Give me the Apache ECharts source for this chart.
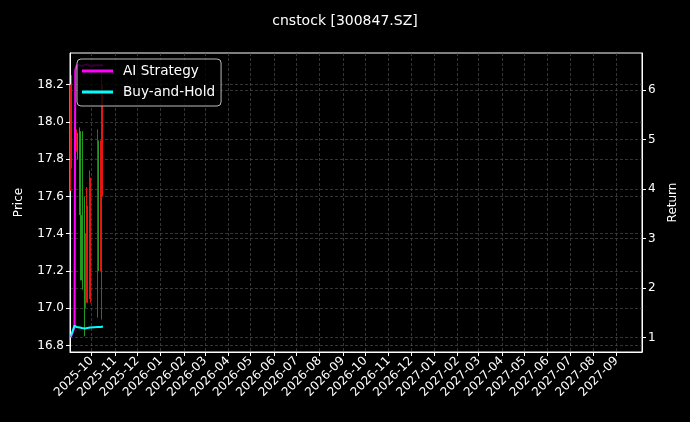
<!DOCTYPE html>
<html>
<head>
<meta charset="utf-8">
<script src="https://cdn.jsdelivr.net/npm/echarts@6/dist/echarts.min.js"></script>
<style>
html, body { margin: 0; padding: 0; background: #000; }
#chart { width: 690px; height: 422px; }
</style>
</head>
<body>
<div id="chart"></div>
<script>
// trading days shown on the chart
var dates = ['2025-09-03', '2025-09-04', '2025-09-05', '2025-09-08', '2025-09-09', '2025-09-10',
    '2025-09-11', '2025-09-12', '2025-09-15', '2025-09-16', '2025-09-17', '2025-09-18',
    '2025-09-19', '2025-09-22', '2025-09-23', '2025-09-24', '2025-09-25', '2025-09-26',
    '2025-09-29', '2025-09-30', '2025-10-09', '2025-10-10', '2025-10-13', '2025-10-14',
    '2025-10-15', '2025-10-16'];
var openPx  = [17.70, 17.85, 17.95, 17.95, 17.90, 17.92, 17.88, 17.90, 17.95, 17.90, 17.55, 17.45, 17.35,
    17.40, 17.05, 17.10, 17.15, 17.10, 17.10, 17.10, 17.00, 17.85, 17.25, 17.00, 17.45, 17.70];
var closePx = [18.15, 18.20, 18.10, 17.90, 17.95, 17.88, 17.92, 17.85, 17.60, 17.25, 17.20, 17.20, 17.15,
    16.95, 17.35, 17.60, 17.55, 17.50, 17.70, 17.65, 17.90, 17.30, 17.85, 17.75, 18.20, 18.10];
var lowPx   = [17.63, 17.75, 17.85, 17.85, 17.85, 17.82, 17.84, 17.80, 17.50, 17.20, 17.15, 17.15, 17.10,
    16.85, 17.00, 17.03, 17.10, 17.03, 17.05, 17.03, 16.95, 17.20, 17.20, 16.94, 17.39, 17.60];
var highPx  = [18.20, 18.25, 18.15, 18.00, 17.98, 17.95, 17.96, 17.94, 17.97, 17.95, 17.60, 17.50, 17.95,
    17.60, 17.40, 17.65, 17.60, 17.55, 17.74, 17.70, 17.96, 17.90, 17.90, 17.80, 18.28, 18.20];
var aiReturn = [1.00, 1.00, 1.00, 1.20, 6.40, 6.45, 6.50, 6.47, 6.50, 6.52, 6.50, 6.49, 6.50,
    6.51, 6.50, 6.50, 6.52, 6.50, 6.49, 6.50, 6.50, 6.51, 6.50, 6.50, 6.52, 6.50];
var bhReturn = [1.02, 1.02, 1.03, 1.24, 1.24, 1.22, 1.21, 1.21, 1.20, 1.19, 1.19, 1.19, 1.19,
    1.18, 1.19, 1.19, 1.19, 1.19, 1.20, 1.20, 1.21, 1.21, 1.21, 1.21, 1.22, 1.22];

var monthTicks = ['2025-10', '2025-11', '2025-12', '2026-01', '2026-02', '2026-03', '2026-04',
    '2026-05', '2026-06', '2026-07', '2026-08', '2026-09', '2026-10', '2026-11', '2026-12',
    '2027-01', '2027-02', '2027-03', '2027-04', '2027-05', '2027-06', '2027-07', '2027-08', '2027-09'];
var priceTicks = [16.8, 17.0, 17.2, 17.4, 17.6, 17.8, 18.0, 18.2];
var returnTicks = [1, 2, 3, 4, 5, 6];

function toTime(s) {
    var p = s.split('-');
    return new Date(+p[0], +p[1] - 1, p[2] ? +p[2] : 1).getTime();
}
function monthLabel(v) {
    var d = new Date(v);
    var m = d.getMonth() + 1;
    return d.getFullYear() + '-' + (m < 10 ? '0' + m : m);
}

var candles = dates.map(function (d, i) {
    return [toTime(d), openPx[i], closePx[i], lowPx[i], highPx[i]];
});
var aiData = dates.map(function (d, i) { return [toTime(d), aiReturn[i]]; });
var bhData = dates.map(function (d, i) { return [toTime(d), bhReturn[i]]; });
var monthValues = monthTicks.map(toTime);

var font = 'DejaVu Sans';
var gridLine = { show: true, lineStyle: { color: '#4a4a4a', width: 0.7, type: [3, 2] } };

var myChart = echarts.init(document.getElementById('chart'));
var option = {
    backgroundColor: '#000',
    animation: false,
    textStyle: { fontFamily: font },
    title: {
        text: 'cnstock [300847.SZ]',
        left: 'center',
        top: 9,
        textStyle: { color: '#fff', fontSize: 14, fontWeight: 'normal', fontFamily: font }
    },
    legend: {
        left: 77,
        top: 59,
        orient: 'vertical',
        itemWidth: 31,
        itemHeight: 3,
        itemGap: 7,
        icon: 'rect',
        padding: [5, 6, 7, 5],
        backgroundColor: 'rgba(0,0,0,0.8)',
        borderColor: '#bbb',
        borderWidth: 1,
        borderRadius: 4,
        textStyle: { color: '#fff', fontSize: 13.6, fontFamily: font, padding: [0, 0, 0, 5] },
        data: ['AI Strategy', 'Buy-and-Hold']
    },
    grid: {
        left: 70, right: 48, top: 53, bottom: 70,
        show: true, borderColor: '#fff', borderWidth: 1
    },
    xAxis: {
        type: 'value',
        min: toTime('2025-09-02'),
        max: toTime('2027-10-05'),
        axisLine: { show: true, lineStyle: { color: '#fff' } },
        axisTick: { show: true, length: 4, lineStyle: { color: '#fff' }, customValues: monthValues },
        axisLabel: {
            color: '#fff', fontSize: 12, rotate: 45, margin: 7, fontFamily: font,
            customValues: monthValues,
            formatter: monthLabel
        },
        splitLine: gridLine
    },
    yAxis: [
        {
            type: 'value',
            name: 'Price',
            nameLocation: 'middle',
            nameGap: 45,
            nameTextStyle: { color: '#fff', fontSize: 12, fontFamily: font },
            min: 16.766,
            max: 18.369,
            axisLine: { show: true, lineStyle: { color: '#fff' } },
            axisTick: { show: true, length: 4, lineStyle: { color: '#fff' }, customValues: priceTicks },
            axisLabel: {
                color: '#fff', fontSize: 12, margin: 6, fontFamily: font,
                customValues: priceTicks,
                formatter: function (v) { return v.toFixed(1); }
            },
            splitLine: gridLine
        },
        {
            type: 'value',
            name: 'Return',
            nameLocation: 'middle',
            nameGap: 25,
            nameTextStyle: { color: '#fff', fontSize: 12, fontFamily: font },
            min: 0.706,
            max: 6.75,
            position: 'right',
            axisLine: { show: true, lineStyle: { color: '#fff' } },
            axisTick: { show: true, length: 4, lineStyle: { color: '#fff' }, customValues: returnTicks },
            axisLabel: {
                color: '#fff', fontSize: 12, margin: 6, fontFamily: font,
                customValues: returnTicks,
                formatter: function (v) { return String(Math.round(v)); }
            },
            splitLine: gridLine
        }
    ],
    series: [
        {
            name: 'Price',
            type: 'candlestick',
            yAxisIndex: 0,
            barWidth: 1.2,
            itemStyle: {
                color: '#e81414', color0: '#229a22',
                borderColor: '#e81414', borderColor0: '#229a22', borderWidth: 1
            },
            data: candles
        },
        {
            name: 'AI Strategy',
            type: 'line',
            yAxisIndex: 1,
            showSymbol: false,
            lineStyle: { color: '#ff00ff', width: 2 },
            itemStyle: { color: '#ff00ff' },
            data: aiData
        },
        {
            name: 'Buy-and-Hold',
            type: 'line',
            yAxisIndex: 1,
            showSymbol: false,
            lineStyle: { color: '#00ffff', width: 2 },
            itemStyle: { color: '#00ffff' },
            data: bhData
        }
    ]
};
myChart.setOption(option);
</script>
</body>
</html>
